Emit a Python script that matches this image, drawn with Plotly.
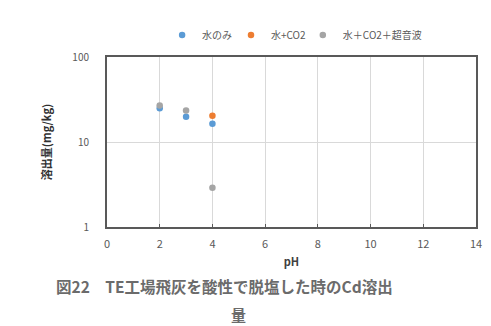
import plotly.graph_objects as go

ph_water = [2, 3, 4]
cd_water = [25.0, 19.8, 16.4]
ph_co2 = [4]
cd_co2 = [20.4]
ph_us = [2, 3, 4]
cd_us = [26.8, 23.4, 2.9]

series_names = ["水のみ", "水+CO2", "水＋CO2＋超音波"]
colors = ["#5b9bd5", "#ed7d31", "#a5a5a5"]
x_ticks = [0, 2, 4, 6, 8, 10, 12, 14]
y_ticks = [1, 10, 100]

font_family = "Noto Sans CJK JP, Noto Sans, sans-serif"

fig = go.Figure()
legend_ids = ["legend", "legend2", "legend3"]
for xs, ys, name, c, lg in [(ph_water, cd_water, series_names[0], colors[0], legend_ids[0]),
                            (ph_co2, cd_co2, series_names[1], colors[1], legend_ids[1]),
                            (ph_us, cd_us, series_names[2], colors[2], legend_ids[2])]:
    fig.add_trace(go.Scatter(x=xs, y=ys, mode="markers", name=name, legend=lg,
                             marker=dict(color=c, size=6.5, symbol="circle")))

def leg(xpos):
    return dict(orientation="h", x=xpos, xanchor="left", y=1.13, yanchor="middle",
                font=dict(size=10, color="#595959"), itemwidth=30,
                bgcolor="rgba(0,0,0,0)")

fig.update_layout(
    width=491, height=326,
    margin=dict(l=107, r=9, t=57, b=99),
    paper_bgcolor="white", plot_bgcolor="white",
    font=dict(family=font_family, size=10, color="#595959"),
    showlegend=True,
    legend=leg((163 - 107) / 375),
    legend2=leg((233 - 107) / 375),
    legend3=leg((306 - 107) / 375),
    xaxis=dict(range=[0, 14], tickvals=x_ticks, showgrid=True, gridcolor="#d9d9d9",
               gridwidth=1, zeroline=False, showline=True, linecolor="#595959",
               linewidth=2, mirror=True, ticks="inside", ticklen=3, tickcolor="#595959",
               ticklabelstandoff=6,
               tickfont=dict(size=11, color="#595959"),
               title=dict(text="<b>pH</b>", font=dict(size=11, color="#404040"), standoff=8)),
    yaxis=dict(type="log", range=[0, 2], tickvals=y_ticks, ticktext=["1", "10", "100"],
               showgrid=True, gridcolor="#d9d9d9", zeroline=False, showline=True,
               linecolor="#595959", linewidth=2, mirror=True, ticks="",
               ticklabelstandoff=14,
               tickfont=dict(size=10, color="#595959"),
               title=dict(text="<b>溶出量(mg/kg)</b>", font=dict(size=11, color="#303030"), standoff=18)),
    annotations=[
        dict(text="<b>図22　TE工場飛灰を酸性で脱塩した時のCd溶出</b>", xref="paper", yref="paper",
             x=(53 - 107) / 375, y=(227 - 286) / 170, xanchor="left", yanchor="middle", showarrow=False,
             font=dict(size=15.5, color="#6b6b6b")),
        dict(text="<b>量</b>", xref="paper", yref="paper", x=(241 - 107) / 375, y=(227 - 314) / 170,
             xanchor="center", yanchor="middle", showarrow=False,
             font=dict(size=15, color="#6b6b6b")),
    ],
)

fig.write_html("out.html")
